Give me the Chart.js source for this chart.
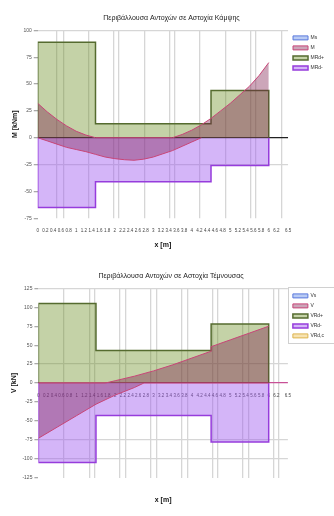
<!DOCTYPE html>
<html><head><meta charset="utf-8">
<script src="https://cdn.jsdelivr.net/npm/chart.js@4/dist/chart.umd.min.js"></script>
<style>
html,body{margin:0;padding:0;background:#fff;}
.box{position:relative;width:334px;height:258px;}
</style></head><body>
<div class="box"><canvas id="c1"></canvas></div>
<div class="box"><canvas id="c2"></canvas></div>
<script>
// ---------- data (x in m) ----------
const stepX = [0, 1.5, 4.5, 6];

// Moments
const mRdPos = [89, 13, 44];
const mRdNeg = [-65, -41, -26];
const mPosX = [0, 0.25, 0.5, 0.75, 1.0, 1.25, 1.5, 3.5, 3.75, 4.0, 4.25, 4.5, 4.75, 5.0, 5.25, 5.5, 5.75, 6.0];
const mPosY = [32, 24, 17, 11, 6, 2.5, 0, 0, 3, 7, 12, 18, 25, 32, 40, 48, 58, 70];
const mNegX = [0, 0.25, 0.5, 0.75, 1.0, 1.25, 1.5, 1.75, 2.0, 2.25, 2.5, 2.75, 3.0, 3.25, 3.5, 3.75, 4.0, 4.25];
const mNegY = [0, -3, -6, -9, -11, -13, -15.5, -18, -19.5, -20.5, -21, -20, -18, -15, -12, -8, -4, 0];

// Shear
const vRdPos = [105, 43, 78];
const vRdNeg = [-105, -43, -78];
const vPosX = [0, 1.75, 2.0, 2.5, 3.0, 3.5, 4.0, 4.5, 4.5, 5.0, 5.5, 6.0];
const vPosY = [0, 0, 3, 9, 16, 24, 33, 42, 48, 57, 66, 75];
const vNegX = [0, 0.5, 1.0, 1.5, 2.0, 2.5, 2.75, 6.0];
const vNegY = [-73, -58, -43, -28, -16, -6, 0, 0];

// labels / ticks
const titleM = 'Περιβάλλουσα Αντοχών σε Αστοχία Κάμψης';
const titleV = 'Περιβάλλουσα Αντοχών σε Αστοχία Τέμνουσας';
const legendM = ['Ms', 'M', 'MRd+', 'MRd-'];
const legendV = ['Vs', 'V', 'VRd+', 'VRd-', 'VRd,c'];
const xGridM = [0.5, 0.66, 1.31, 1.96, 2.1, 2.77, 3.42, 3.56, 4.21, 4.88, 5.52, 5.67, 6.33];
const xGridV = [0.67, 1.34, 1.47, 2.12, 2.28, 2.92, 3.08, 3.72, 3.88, 4.53, 4.68, 5.33, 5.48, 6.13, 6.26];
const yGridM = [100, -25];
const yGridV = [125, 25, -75, -100];

// ---------- helpers ----------
function pts(xs, ys) { return xs.map((x, i) => ({x: x, y: ys[i]})); }
function steps(xs, vals) {
  const d = [{x: xs[0], y: 0}];
  for (let i = 0; i < vals.length; i++) {
    d.push({x: xs[i], y: vals[i]});
    d.push({x: xs[i + 1], y: vals[i]});
  }
  d.push({x: xs[xs.length - 1], y: 0});
  return d;
}
const C = {
  blue: {bg: 'rgba(100,140,230,0.45)', bd: 'rgb(90,120,220)'},
  red: {bg: 'rgba(120,20,70,0.38)', bd: 'rgb(200,70,120)'},
  green: {bg: 'rgba(107,142,35,0.40)', bd: 'rgb(85,107,47)'},
  purple: {bg: 'rgba(160,90,240,0.45)', bd: 'rgb(150,60,220)'},
  yellow: {bg: 'rgba(240,200,100,0.5)', bd: 'rgb(220,180,80)'}
};
function ds(label, data, col, order, bw) {
  return {label: label, data: data, backgroundColor: col.bg, borderColor: col.bd,
    borderWidth: bw, fill: 'origin', pointRadius: 0, showLine: true, tension: 0, order: order};
}
const legendBorder = {
  id: 'legendBorder',
  afterDraw(chart, args, opts) {
    if (!opts.on) return;
    const hb = chart.legend.legendHitBoxes;
    if (!hb || !hb.length) return;
    let l = Infinity, t = Infinity, b = -Infinity;
    hb.forEach(h => { l = Math.min(l, h.left); t = Math.min(t, h.top); b = Math.max(b, h.top + h.height); });
    const c = chart.ctx;
    c.save(); c.strokeStyle = '#d0d0d0'; c.lineWidth = 1;
    c.strokeRect(Math.round(l - 5) + 0.5, Math.round(t - 6) + 0.5, chart.width, Math.round(b - t + 11));
    c.restore();
  }
};
Chart.register(legendBorder);

function makeChart(id, cfg) {
  const xScales = {
    x: {type: 'linear', min: 0, max: 6.5, position: cfg.xPos,
      grid: {display: false}, border: {display: false},
      ticks: {stepSize: 0.2, autoSkip: false, maxRotation: 0, font: {size: 4.5}, color: '#444', padding: 2,
        callback: v => String(Math.round(v * 10) / 10)},
      title: {display: cfg.xPos === 'bottom', text: 'x [m]', font: {size: 7, weight: 'bold'}, color: '#111', padding: {top: 5}}},
    x2: {type: 'linear', min: 0, max: 6.5, position: cfg.xPos === 'bottom' ? 'top' : 'bottom',
      afterBuildTicks: s => { s.ticks = cfg.xGrid.map(v => ({value: v})); },
      grid: {color: '#d6d6d6', lineWidth: 1.3, drawTicks: false}, border: {display: false},
      ticks: {display: false},
      title: {display: cfg.xPos !== 'bottom', text: 'x [m]', font: {size: 7, weight: 'bold'}, color: '#111', padding: {top: cfg.x2Pad, bottom: 0}}}
  };
  return new Chart(document.getElementById(id), {
    type: 'scatter',
    data: {datasets: cfg.datasets},
    options: {
      responsive: true, maintainAspectRatio: false, animation: false,
      layout: {padding: cfg.pad},
      plugins: {
        legendBorder: {on: cfg.legendBorder},
        title: {display: true, text: cfg.title, font: {size: 7, weight: 'normal'}, color: '#222', padding: {top: cfg.titleTop, bottom: 8}},
        legend: {position: 'right', align: 'start', fullSize: false,
          labels: {boxWidth: 15, boxHeight: 4, font: {size: 5}, color: '#333', padding: 5,
            filter: it => it.text !== ''}},
        tooltip: {enabled: false}
      },
      scales: Object.assign(xScales, {
        y: {min: cfg.yMin, max: cfg.yMax,
          ticks: {stepSize: 25, font: {size: 5}, color: '#555', padding: 2},
          grid: {color: c => c.tick.value === 0 ? cfg.zeroCol : (cfg.yGrid.includes(c.tick.value) ? '#d6d6d6' : 'rgba(0,0,0,0)'),
            lineWidth: 1.3, tickColor: '#aaa', tickLength: 4},
          border: {display: false},
          title: {display: true, text: cfg.yTitle, font: {size: 7, weight: 'bold'}, color: '#111', padding: 2}}
      })
    }
  });
}

makeChart('c1', {
  title: titleM, yTitle: 'M [kNm]', yMin: -75, yMax: 100, yGrid: yGridM, xGrid: xGridM,
  xPos: 'bottom', zeroCol: '#222', legendBorder: false, titleTop: 14, x2Pad: 0,
  pad: {left: 9, right: 0, bottom: 5},
  datasets: [
    ds(legendM[0], [], C.blue, 0, 1),
    ds(legendM[1], pts(mPosX, mPosY), C.red, 0, 1),
    ds(legendM[2], steps(stepX, mRdPos), C.green, 1, 1.5),
    ds(legendM[3], steps(stepX, mRdNeg), C.purple, 1, 1.5),
    ds('', pts(mNegX, mNegY), C.red, 0, 1)
  ]
});

makeChart('c2', {
  title: titleV, yTitle: 'V [kN]', yMin: -125, yMax: 125, yGrid: yGridV, xGrid: xGridV,
  xPos: {y: 0}, zeroCol: 'rgb(200,80,150)', legendBorder: true, titleTop: 14, x2Pad: 18,
  pad: {left: 8, right: 0, bottom: 12},
  datasets: [
    ds(legendV[0], [], C.blue, 0, 1),
    ds(legendV[1], pts(vPosX, vPosY), C.red, 0, 1),
    ds(legendV[2], steps(stepX, vRdPos), C.green, 1, 1.5),
    ds(legendV[3], steps(stepX, vRdNeg), C.purple, 1, 1.5),
    ds(legendV[4], [], C.yellow, 1, 1),
    ds('', pts(vNegX, vNegY), C.red, 0, 1)
  ]
});
</script>
</body></html>
